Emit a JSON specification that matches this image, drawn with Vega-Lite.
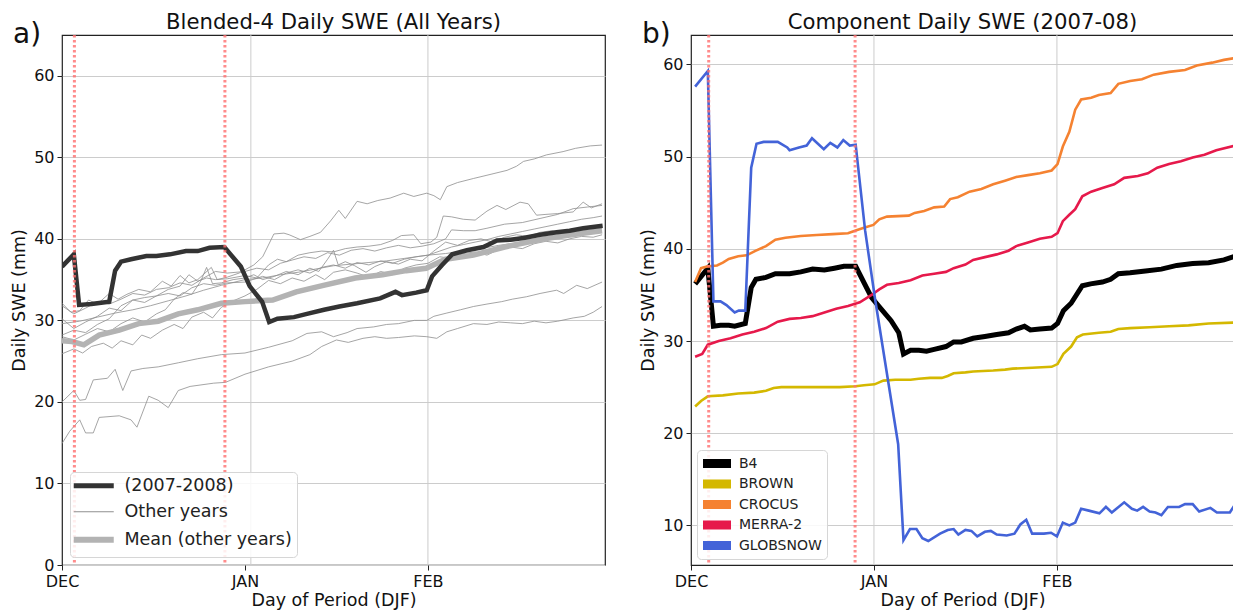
{
  "$schema": "https://vega.github.io/schema/vega-lite/v6.json",
  "background": "white",
  "padding": {"left": 10, "top": 11, "right": 0, "bottom": 0},
  "bounds": "flush",
  "spacing": 86,
  "resolve": {"scale": {"color": "independent"}, "legend": {"color": "independent"}},
  "config": {
    "font": "DejaVu Sans",
    "view": {"stroke": "#222222", "strokeWidth": 1.2},
    "axis": {
      "labelFont": "DejaVu Sans", "titleFont": "DejaVu Sans",
      "labelFontSize": 16, "titleFontSize": 17.5, "titleFontWeight": "normal",
      "labelColor": "#111111", "titleColor": "#111111",
      "domain": false, "tickColor": "#222222", "tickSize": 5, "labelPadding": 3,
      "gridColor": "#cccccc", "gridWidth": 1, "labelFlush": false, "labelOverlap": false
    },
    "axisY": {"titlePadding": 5},
    "axisX": {"titlePadding": 2},
    "title": {"font": "DejaVu Sans", "fontSize": 21.2, "fontWeight": "normal", "color": "#111111", "offset": -12, "frame": "group"},
    "legend": {"labelFont": "DejaVu Sans", "labelColor": "#222222", "direction": "vertical", "labelLimit": 400}
  },
  "datasets": {
    "left_grid": [{"d": 32}, {"d": 62}],
    "left_marks": [{"d": 2.1}, {"d": 27.6}],
    "right_grid": [{"d": 31}, {"d": 62}],
    "right_marks": [{"d": 3.0}, {"d": 27.8}],
    "left_lines": [
      {"k":"L1","s":"Other years","d":0,"v":32.1},{"k":"L1","s":"Other years","d":1.5,"v":31.0},{"k":"L1","s":"Other years","d":3,"v":31.2},{"k":"L1","s":"Other years","d":4.5,"v":32.5},{"k":"L1","s":"Other years","d":6,"v":32.0},{"k":"L1","s":"Other years","d":8,"v":33.3},{"k":"L1","s":"Other years","d":9.5,"v":32.6},{"k":"L1","s":"Other years","d":11,"v":33.2},{"k":"L1","s":"Other years","d":13,"v":33.8},{"k":"L1","s":"Other years","d":15,"v":33.5},{"k":"L1","s":"Other years","d":17,"v":34.8},{"k":"L1","s":"Other years","d":18.5,"v":34.2},{"k":"L1","s":"Other years","d":20,"v":35.5},{"k":"L1","s":"Other years","d":21.5,"v":34.6},{"k":"L1","s":"Other years","d":23,"v":35.0},{"k":"L1","s":"Other years","d":25.3,"v":36.5},{"k":"L1","s":"Other years","d":26.3,"v":35.0},{"k":"L1","s":"Other years","d":28,"v":35.3},{"k":"L1","s":"Other years","d":30,"v":35.8},{"k":"L1","s":"Other years","d":32.5,"v":36.8},{"k":"L1","s":"Other years","d":34,"v":37.8},{"k":"L1","s":"Other years","d":35.9,"v":40.6},{"k":"L1","s":"Other years","d":37.6,"v":40.7},{"k":"L1","s":"Other years","d":38.5,"v":40.5},{"k":"L1","s":"Other years","d":40.4,"v":39.9},{"k":"L1","s":"Other years","d":42,"v":40.3},{"k":"L1","s":"Other years","d":43.8,"v":40.8},{"k":"L1","s":"Other years","d":45.5,"v":42.2},{"k":"L1","s":"Other years","d":46.9,"v":43.5},{"k":"L1","s":"Other years","d":48,"v":42.5},{"k":"L1","s":"Other years","d":50,"v":44.6},{"k":"L1","s":"Other years","d":51.7,"v":44.3},{"k":"L1","s":"Other years","d":53.5,"v":44.7},{"k":"L1","s":"Other years","d":55.6,"v":45.0},{"k":"L1","s":"Other years","d":57.9,"v":45.6},{"k":"L1","s":"Other years","d":59.6,"v":45.2},{"k":"L1","s":"Other years","d":61.8,"v":45.6},{"k":"L1","s":"Other years","d":63,"v":45.3},{"k":"L1","s":"Other years","d":64.1,"v":44.8},{"k":"L1","s":"Other years","d":65.2,"v":46.4},{"k":"L1","s":"Other years","d":67,"v":46.9},{"k":"L1","s":"Other years","d":69.7,"v":47.4},{"k":"L1","s":"Other years","d":72,"v":47.8},{"k":"L1","s":"Other years","d":75.4,"v":48.4},{"k":"L1","s":"Other years","d":77,"v":48.9},{"k":"L1","s":"Other years","d":78.2,"v":49.5},{"k":"L1","s":"Other years","d":80,"v":49.8},{"k":"L1","s":"Other years","d":82.1,"v":50.3},{"k":"L1","s":"Other years","d":84.9,"v":50.7},{"k":"L1","s":"Other years","d":87,"v":51.1},{"k":"L1","s":"Other years","d":89.5,"v":51.4},{"k":"L1","s":"Other years","d":91.5,"v":51.5},
      {"k":"L2","s":"Other years","d":0,"v":30.2},{"k":"L2","s":"Other years","d":2,"v":29.0},{"k":"L2","s":"Other years","d":4,"v":29.8},{"k":"L2","s":"Other years","d":6,"v":30.5},{"k":"L2","s":"Other years","d":8,"v":31.5},{"k":"L2","s":"Other years","d":10,"v":31.2},{"k":"L2","s":"Other years","d":12,"v":32.5},{"k":"L2","s":"Other years","d":14,"v":32.8},{"k":"L2","s":"Other years","d":16,"v":33.0},{"k":"L2","s":"Other years","d":18,"v":33.8},{"k":"L2","s":"Other years","d":20,"v":34.2},{"k":"L2","s":"Other years","d":21.5,"v":35.6},{"k":"L2","s":"Other years","d":23,"v":34.8},{"k":"L2","s":"Other years","d":24.5,"v":35.2},{"k":"L2","s":"Other years","d":26,"v":35.0},{"k":"L2","s":"Other years","d":28,"v":35.1},{"k":"L2","s":"Other years","d":31,"v":35.5},{"k":"L2","s":"Other years","d":33,"v":35.2},{"k":"L2","s":"Other years","d":35,"v":36.8},{"k":"L2","s":"Other years","d":36.5,"v":37.5},{"k":"L2","s":"Other years","d":38,"v":37.2},{"k":"L2","s":"Other years","d":40,"v":38.0},{"k":"L2","s":"Other years","d":42,"v":38.3},{"k":"L2","s":"Other years","d":44,"v":38.5},{"k":"L2","s":"Other years","d":46,"v":38.4},{"k":"L2","s":"Other years","d":48,"v":38.8},{"k":"L2","s":"Other years","d":50,"v":39.0},{"k":"L2","s":"Other years","d":52,"v":39.1},{"k":"L2","s":"Other years","d":54,"v":39.3},{"k":"L2","s":"Other years","d":56,"v":39.8},{"k":"L2","s":"Other years","d":57.5,"v":40.4},{"k":"L2","s":"Other years","d":59.6,"v":40.5},{"k":"L2","s":"Other years","d":60.8,"v":39.4},{"k":"L2","s":"Other years","d":62.5,"v":39.6},{"k":"L2","s":"Other years","d":63.5,"v":40.2},{"k":"L2","s":"Other years","d":64.6,"v":42.8},{"k":"L2","s":"Other years","d":66,"v":42.7},{"k":"L2","s":"Other years","d":68,"v":42.4},{"k":"L2","s":"Other years","d":70,"v":42.3},{"k":"L2","s":"Other years","d":72,"v":43.4},{"k":"L2","s":"Other years","d":73.7,"v":44.1},{"k":"L2","s":"Other years","d":75.2,"v":43.6},{"k":"L2","s":"Other years","d":77.6,"v":44.5},{"k":"L2","s":"Other years","d":79,"v":44.3},{"k":"L2","s":"Other years","d":80.4,"v":42.9},{"k":"L2","s":"Other years","d":82,"v":43.0},{"k":"L2","s":"Other years","d":84,"v":43.1},{"k":"L2","s":"Other years","d":86.6,"v":43.3},{"k":"L2","s":"Other years","d":88.3,"v":44.5},{"k":"L2","s":"Other years","d":89.7,"v":43.8},{"k":"L2","s":"Other years","d":91.5,"v":44.3},
      {"k":"L3","s":"Other years","d":0,"v":29.6},{"k":"L3","s":"Other years","d":3,"v":29.9},{"k":"L3","s":"Other years","d":6,"v":30.4},{"k":"L3","s":"Other years","d":9,"v":30.9},{"k":"L3","s":"Other years","d":12,"v":31.3},{"k":"L3","s":"Other years","d":15,"v":31.8},{"k":"L3","s":"Other years","d":18,"v":32.4},{"k":"L3","s":"Other years","d":21,"v":33.0},{"k":"L3","s":"Other years","d":24,"v":33.7},{"k":"L3","s":"Other years","d":27,"v":34.3},{"k":"L3","s":"Other years","d":31,"v":35.0},{"k":"L3","s":"Other years","d":34,"v":35.2},{"k":"L3","s":"Other years","d":37,"v":35.6},{"k":"L3","s":"Other years","d":40,"v":35.9},{"k":"L3","s":"Other years","d":43,"v":36.3},{"k":"L3","s":"Other years","d":46,"v":36.7},{"k":"L3","s":"Other years","d":49,"v":36.9},{"k":"L3","s":"Other years","d":52,"v":37.1},{"k":"L3","s":"Other years","d":55,"v":37.3},{"k":"L3","s":"Other years","d":58,"v":37.6},{"k":"L3","s":"Other years","d":62,"v":38.0},{"k":"L3","s":"Other years","d":65,"v":38.2},{"k":"L3","s":"Other years","d":68,"v":38.5},{"k":"L3","s":"Other years","d":71,"v":38.8},{"k":"L3","s":"Other years","d":74,"v":39.2},{"k":"L3","s":"Other years","d":77,"v":39.5},{"k":"L3","s":"Other years","d":80,"v":39.9},{"k":"L3","s":"Other years","d":83,"v":40.2},{"k":"L3","s":"Other years","d":86,"v":40.5},{"k":"L3","s":"Other years","d":89,"v":40.8},{"k":"L3","s":"Other years","d":91.5,"v":41.0},
      {"k":"L4","s":"Other years","d":0,"v":28.2},{"k":"L4","s":"Other years","d":2,"v":28.8},{"k":"L4","s":"Other years","d":4,"v":28.5},{"k":"L4","s":"Other years","d":6,"v":29.5},{"k":"L4","s":"Other years","d":8,"v":30.2},{"k":"L4","s":"Other years","d":10,"v":31.8},{"k":"L4","s":"Other years","d":12,"v":32.5},{"k":"L4","s":"Other years","d":14,"v":32.2},{"k":"L4","s":"Other years","d":16,"v":33.0},{"k":"L4","s":"Other years","d":18,"v":33.3},{"k":"L4","s":"Other years","d":20,"v":33.0},{"k":"L4","s":"Other years","d":22,"v":34.0},{"k":"L4","s":"Other years","d":24,"v":34.5},{"k":"L4","s":"Other years","d":26,"v":34.3},{"k":"L4","s":"Other years","d":28,"v":34.6},{"k":"L4","s":"Other years","d":31,"v":34.7},{"k":"L4","s":"Other years","d":34,"v":35.4},{"k":"L4","s":"Other years","d":36,"v":35.0},{"k":"L4","s":"Other years","d":38,"v":35.8},{"k":"L4","s":"Other years","d":40,"v":36.2},{"k":"L4","s":"Other years","d":42,"v":35.8},{"k":"L4","s":"Other years","d":44,"v":36.5},{"k":"L4","s":"Other years","d":46,"v":36.8},{"k":"L4","s":"Other years","d":48,"v":36.4},{"k":"L4","s":"Other years","d":50,"v":37.1},{"k":"L4","s":"Other years","d":52,"v":36.8},{"k":"L4","s":"Other years","d":54,"v":37.3},{"k":"L4","s":"Other years","d":56,"v":37.0},{"k":"L4","s":"Other years","d":58,"v":37.5},{"k":"L4","s":"Other years","d":60,"v":37.8},{"k":"L4","s":"Other years","d":62,"v":38.0},{"k":"L4","s":"Other years","d":64,"v":38.5},{"k":"L4","s":"Other years","d":66,"v":39.0},{"k":"L4","s":"Other years","d":68,"v":39.3},{"k":"L4","s":"Other years","d":70,"v":39.6},{"k":"L4","s":"Other years","d":72,"v":39.9},{"k":"L4","s":"Other years","d":74,"v":40.3},{"k":"L4","s":"Other years","d":76,"v":40.6},{"k":"L4","s":"Other years","d":78,"v":40.9},{"k":"L4","s":"Other years","d":80,"v":41.2},{"k":"L4","s":"Other years","d":82,"v":41.5},{"k":"L4","s":"Other years","d":84,"v":41.8},{"k":"L4","s":"Other years","d":86,"v":42.1},{"k":"L4","s":"Other years","d":88,"v":42.4},{"k":"L4","s":"Other years","d":90,"v":42.6},{"k":"L4","s":"Other years","d":91.5,"v":42.8},
      {"k":"L5","s":"Other years","d":0,"v":31.8},{"k":"L5","s":"Other years","d":2,"v":30.8},{"k":"L5","s":"Other years","d":4,"v":31.5},{"k":"L5","s":"Other years","d":6,"v":32.3},{"k":"L5","s":"Other years","d":8,"v":32.0},{"k":"L5","s":"Other years","d":10,"v":32.6},{"k":"L5","s":"Other years","d":12,"v":33.3},{"k":"L5","s":"Other years","d":14,"v":33.1},{"k":"L5","s":"Other years","d":16,"v":33.8},{"k":"L5","s":"Other years","d":18,"v":34.0},{"k":"L5","s":"Other years","d":20,"v":34.6},{"k":"L5","s":"Other years","d":22,"v":34.3},{"k":"L5","s":"Other years","d":24,"v":35.2},{"k":"L5","s":"Other years","d":26,"v":36.0},{"k":"L5","s":"Other years","d":28,"v":35.8},{"k":"L5","s":"Other years","d":31,"v":36.0},{"k":"L5","s":"Other years","d":33,"v":36.4},{"k":"L5","s":"Other years","d":35,"v":36.2},{"k":"L5","s":"Other years","d":37,"v":37.0},{"k":"L5","s":"Other years","d":39,"v":37.4},{"k":"L5","s":"Other years","d":41,"v":37.8},{"k":"L5","s":"Other years","d":43,"v":37.6},{"k":"L5","s":"Other years","d":45,"v":38.3},{"k":"L5","s":"Other years","d":47,"v":38.0},{"k":"L5","s":"Other years","d":49,"v":38.6},{"k":"L5","s":"Other years","d":51,"v":38.8},{"k":"L5","s":"Other years","d":53,"v":38.5},{"k":"L5","s":"Other years","d":55,"v":38.9},{"k":"L5","s":"Other years","d":57,"v":39.2},{"k":"L5","s":"Other years","d":59,"v":38.9},{"k":"L5","s":"Other years","d":61,"v":39.1},{"k":"L5","s":"Other years","d":63,"v":39.4},{"k":"L5","s":"Other years","d":65,"v":40.0},{"k":"L5","s":"Other years","d":66,"v":41.1},{"k":"L5","s":"Other years","d":68,"v":41.0},{"k":"L5","s":"Other years","d":70,"v":41.0},{"k":"L5","s":"Other years","d":72,"v":41.3},{"k":"L5","s":"Other years","d":75,"v":41.8},{"k":"L5","s":"Other years","d":78,"v":42.0},{"k":"L5","s":"Other years","d":81,"v":42.5},{"k":"L5","s":"Other years","d":84,"v":43.0},{"k":"L5","s":"Other years","d":86.6,"v":43.7},{"k":"L5","s":"Other years","d":89,"v":43.9},{"k":"L5","s":"Other years","d":91.5,"v":44.1},
      {"k":"L6","s":"Other years","d":0,"v":25.9},{"k":"L6","s":"Other years","d":2,"v":26.5},{"k":"L6","s":"Other years","d":3.5,"v":26.0},{"k":"L6","s":"Other years","d":5,"v":26.8},{"k":"L6","s":"Other years","d":7,"v":27.2},{"k":"L6","s":"Other years","d":8.5,"v":26.6},{"k":"L6","s":"Other years","d":10,"v":27.5},{"k":"L6","s":"Other years","d":12,"v":27.0},{"k":"L6","s":"Other years","d":13.5,"v":28.2},{"k":"L6","s":"Other years","d":15,"v":27.8},{"k":"L6","s":"Other years","d":17,"v":28.8},{"k":"L6","s":"Other years","d":19,"v":29.5},{"k":"L6","s":"Other years","d":20.5,"v":29.0},{"k":"L6","s":"Other years","d":22,"v":30.4},{"k":"L6","s":"Other years","d":24,"v":31.0},{"k":"L6","s":"Other years","d":25.5,"v":30.3},{"k":"L6","s":"Other years","d":27,"v":31.6},{"k":"L6","s":"Other years","d":29,"v":32.4},{"k":"L6","s":"Other years","d":31,"v":33.0},{"k":"L6","s":"Other years","d":33,"v":33.8},{"k":"L6","s":"Other years","d":35,"v":34.9},{"k":"L6","s":"Other years","d":37,"v":34.5},{"k":"L6","s":"Other years","d":39,"v":35.2},{"k":"L6","s":"Other years","d":41,"v":34.8},{"k":"L6","s":"Other years","d":43,"v":35.6},{"k":"L6","s":"Other years","d":44.5,"v":35.0},{"k":"L6","s":"Other years","d":46,"v":35.9},{"k":"L6","s":"Other years","d":48,"v":36.2},{"k":"L6","s":"Other years","d":50,"v":35.8},{"k":"L6","s":"Other years","d":52,"v":35.3},{"k":"L6","s":"Other years","d":54,"v":36.0},{"k":"L6","s":"Other years","d":56,"v":35.6},{"k":"L6","s":"Other years","d":58,"v":36.4},{"k":"L6","s":"Other years","d":60,"v":36.8},{"k":"L6","s":"Other years","d":62,"v":37.0},{"k":"L6","s":"Other years","d":64,"v":37.8},{"k":"L6","s":"Other years","d":66,"v":37.6},{"k":"L6","s":"Other years","d":68,"v":38.2},{"k":"L6","s":"Other years","d":70,"v":38.4},{"k":"L6","s":"Other years","d":72,"v":38.0},{"k":"L6","s":"Other years","d":74,"v":38.7},{"k":"L6","s":"Other years","d":76,"v":39.0},{"k":"L6","s":"Other years","d":78,"v":38.8},{"k":"L6","s":"Other years","d":80,"v":39.4},{"k":"L6","s":"Other years","d":82,"v":39.7},{"k":"L6","s":"Other years","d":84,"v":39.5},{"k":"L6","s":"Other years","d":86,"v":40.0},{"k":"L6","s":"Other years","d":88,"v":40.3},{"k":"L6","s":"Other years","d":90,"v":40.2},{"k":"L6","s":"Other years","d":91.5,"v":40.5},
      {"k":"L7","s":"Other years","d":0,"v":28.0},{"k":"L7","s":"Other years","d":2,"v":27.6},{"k":"L7","s":"Other years","d":4,"v":28.3},{"k":"L7","s":"Other years","d":6,"v":29.0},{"k":"L7","s":"Other years","d":8,"v":28.6},{"k":"L7","s":"Other years","d":10,"v":29.6},{"k":"L7","s":"Other years","d":12,"v":30.3},{"k":"L7","s":"Other years","d":14,"v":29.8},{"k":"L7","s":"Other years","d":16,"v":30.8},{"k":"L7","s":"Other years","d":17.5,"v":31.3},{"k":"L7","s":"Other years","d":19,"v":32.6},{"k":"L7","s":"Other years","d":20.5,"v":33.4},{"k":"L7","s":"Other years","d":22,"v":33.2},{"k":"L7","s":"Other years","d":23.5,"v":34.8},{"k":"L7","s":"Other years","d":24.5,"v":36.5},{"k":"L7","s":"Other years","d":25.5,"v":34.5},{"k":"L7","s":"Other years","d":27,"v":34.6},{"k":"L7","s":"Other years","d":29,"v":35.0},{"k":"L7","s":"Other years","d":31,"v":35.2},{"k":"L7","s":"Other years","d":32.5,"v":35.6},{"k":"L7","s":"Other years","d":34,"v":35.0},{"k":"L7","s":"Other years","d":36,"v":35.4},{"k":"L7","s":"Other years","d":38,"v":36.0},{"k":"L7","s":"Other years","d":40,"v":35.6},{"k":"L7","s":"Other years","d":42,"v":36.4},{"k":"L7","s":"Other years","d":43.5,"v":36.0},{"k":"L7","s":"Other years","d":45,"v":37.5},{"k":"L7","s":"Other years","d":46,"v":38.6},{"k":"L7","s":"Other years","d":46.8,"v":36.8},{"k":"L7","s":"Other years","d":48,"v":37.2},{"k":"L7","s":"Other years","d":49.6,"v":36.7},{"k":"L7","s":"Other years","d":51.5,"v":35.9},{"k":"L7","s":"Other years","d":53,"v":36.6},{"k":"L7","s":"Other years","d":55,"v":37.2},{"k":"L7","s":"Other years","d":57,"v":36.9},{"k":"L7","s":"Other years","d":59,"v":37.5},{"k":"L7","s":"Other years","d":61,"v":37.3},{"k":"L7","s":"Other years","d":63,"v":38.5},{"k":"L7","s":"Other years","d":65,"v":39.6},{"k":"L7","s":"Other years","d":67,"v":39.2},{"k":"L7","s":"Other years","d":69,"v":39.8},{"k":"L7","s":"Other years","d":71,"v":40.0},{"k":"L7","s":"Other years","d":73,"v":39.6},{"k":"L7","s":"Other years","d":75,"v":40.2},{"k":"L7","s":"Other years","d":77,"v":40.5},{"k":"L7","s":"Other years","d":79,"v":40.3},{"k":"L7","s":"Other years","d":81,"v":40.8},{"k":"L7","s":"Other years","d":83,"v":41.0},{"k":"L7","s":"Other years","d":85,"v":40.7},{"k":"L7","s":"Other years","d":87,"v":41.2},{"k":"L7","s":"Other years","d":89,"v":41.0},{"k":"L7","s":"Other years","d":91.5,"v":41.3},
      {"k":"L8","s":"Other years","d":0,"v":20.0},{"k":"L8","s":"Other years","d":2,"v":21.4},{"k":"L8","s":"Other years","d":3,"v":20.2},{"k":"L8","s":"Other years","d":4,"v":20.3},{"k":"L8","s":"Other years","d":5.3,"v":22.7},{"k":"L8","s":"Other years","d":7.7,"v":22.9},{"k":"L8","s":"Other years","d":9,"v":24.0},{"k":"L8","s":"Other years","d":10.3,"v":21.4},{"k":"L8","s":"Other years","d":11.7,"v":23.8},{"k":"L8","s":"Other years","d":13.7,"v":24.1},{"k":"L8","s":"Other years","d":16.3,"v":24.3},{"k":"L8","s":"Other years","d":19.7,"v":24.8},{"k":"L8","s":"Other years","d":23,"v":25.3},{"k":"L8","s":"Other years","d":27,"v":25.8},{"k":"L8","s":"Other years","d":31,"v":26.0},{"k":"L8","s":"Other years","d":35,"v":26.7},{"k":"L8","s":"Other years","d":39,"v":27.5},{"k":"L8","s":"Other years","d":41.5,"v":28.4},{"k":"L8","s":"Other years","d":44,"v":28.6},{"k":"L8","s":"Other years","d":46,"v":28.0},{"k":"L8","s":"Other years","d":48.3,"v":28.5},{"k":"L8","s":"Other years","d":50,"v":29.0},{"k":"L8","s":"Other years","d":52.8,"v":29.2},{"k":"L8","s":"Other years","d":55,"v":29.5},{"k":"L8","s":"Other years","d":57,"v":29.6},{"k":"L8","s":"Other years","d":59.7,"v":30.0},{"k":"L8","s":"Other years","d":61.8,"v":30.0},{"k":"L8","s":"Other years","d":63,"v":30.5},{"k":"L8","s":"Other years","d":65.2,"v":30.9},{"k":"L8","s":"Other years","d":67.5,"v":31.3},{"k":"L8","s":"Other years","d":69.7,"v":31.7},{"k":"L8","s":"Other years","d":72,"v":32.0},{"k":"L8","s":"Other years","d":74.5,"v":32.3},{"k":"L8","s":"Other years","d":76.3,"v":32.6},{"k":"L8","s":"Other years","d":78.7,"v":32.9},{"k":"L8","s":"Other years","d":81,"v":33.3},{"k":"L8","s":"Other years","d":83.8,"v":33.7},{"k":"L8","s":"Other years","d":85,"v":33.3},{"k":"L8","s":"Other years","d":87.2,"v":34.3},{"k":"L8","s":"Other years","d":89,"v":33.9},{"k":"L8","s":"Other years","d":91.5,"v":34.7},
      {"k":"L9","s":"Other years","d":0,"v":14.9},{"k":"L9","s":"Other years","d":1.3,"v":16.4},{"k":"L9","s":"Other years","d":3,"v":17.8},{"k":"L9","s":"Other years","d":4,"v":16.2},{"k":"L9","s":"Other years","d":5.3,"v":16.2},{"k":"L9","s":"Other years","d":6.3,"v":18.1},{"k":"L9","s":"Other years","d":9.7,"v":18.3},{"k":"L9","s":"Other years","d":11.7,"v":17.8},{"k":"L9","s":"Other years","d":12.7,"v":16.9},{"k":"L9","s":"Other years","d":14.7,"v":20.7},{"k":"L9","s":"Other years","d":16.3,"v":20.2},{"k":"L9","s":"Other years","d":18,"v":19.3},{"k":"L9","s":"Other years","d":19.7,"v":21.4},{"k":"L9","s":"Other years","d":21.7,"v":21.9},{"k":"L9","s":"Other years","d":25.7,"v":22.3},{"k":"L9","s":"Other years","d":27.7,"v":22.4},{"k":"L9","s":"Other years","d":31,"v":23.4},{"k":"L9","s":"Other years","d":35,"v":24.3},{"k":"L9","s":"Other years","d":39,"v":25.0},{"k":"L9","s":"Other years","d":42,"v":25.8},{"k":"L9","s":"Other years","d":44,"v":26.8},{"k":"L9","s":"Other years","d":46.5,"v":27.6},{"k":"L9","s":"Other years","d":48.5,"v":27.3},{"k":"L9","s":"Other years","d":51,"v":27.8},{"k":"L9","s":"Other years","d":53,"v":28.0},{"k":"L9","s":"Other years","d":55,"v":27.8},{"k":"L9","s":"Other years","d":57,"v":27.9},{"k":"L9","s":"Other years","d":59.7,"v":28.1},{"k":"L9","s":"Other years","d":61.8,"v":28.0},{"k":"L9","s":"Other years","d":63.5,"v":27.8},{"k":"L9","s":"Other years","d":65.2,"v":28.6},{"k":"L9","s":"Other years","d":67,"v":29.0},{"k":"L9","s":"Other years","d":69.7,"v":29.6},{"k":"L9","s":"Other years","d":72,"v":29.5},{"k":"L9","s":"Other years","d":74,"v":29.8},{"k":"L9","s":"Other years","d":76,"v":29.7},{"k":"L9","s":"Other years","d":78,"v":29.6},{"k":"L9","s":"Other years","d":80,"v":29.9},{"k":"L9","s":"Other years","d":82,"v":29.7},{"k":"L9","s":"Other years","d":84,"v":29.9},{"k":"L9","s":"Other years","d":86.6,"v":30.3},{"k":"L9","s":"Other years","d":88.5,"v":30.5},{"k":"L9","s":"Other years","d":90,"v":31.0},{"k":"L9","s":"Other years","d":91.5,"v":31.7},
      {"k":"M","s":"Mean (other years)","d":0,"v":27.5},{"k":"M","s":"Mean (other years)","d":1.7,"v":27.4},{"k":"M","s":"Mean (other years)","d":3.7,"v":27.0},{"k":"M","s":"Mean (other years)","d":6.3,"v":28.2},{"k":"M","s":"Mean (other years)","d":9.7,"v":28.8},{"k":"M","s":"Mean (other years)","d":13,"v":29.6},{"k":"M","s":"Mean (other years)","d":16.3,"v":29.9},{"k":"M","s":"Mean (other years)","d":19.7,"v":30.8},{"k":"M","s":"Mean (other years)","d":23,"v":31.3},{"k":"M","s":"Mean (other years)","d":27,"v":32.1},{"k":"M","s":"Mean (other years)","d":31,"v":32.3},{"k":"M","s":"Mean (other years)","d":35.7,"v":32.5},{"k":"M","s":"Mean (other years)","d":39.7,"v":33.5},{"k":"M","s":"Mean (other years)","d":44.3,"v":34.3},{"k":"M","s":"Mean (other years)","d":49.7,"v":35.2},{"k":"M","s":"Mean (other years)","d":54.3,"v":35.6},{"k":"M","s":"Mean (other years)","d":58.3,"v":36.1},{"k":"M","s":"Mean (other years)","d":61.7,"v":36.4},{"k":"M","s":"Mean (other years)","d":65,"v":37.5},{"k":"M","s":"Mean (other years)","d":69.7,"v":38.0},{"k":"M","s":"Mean (other years)","d":75,"v":39.0},{"k":"M","s":"Mean (other years)","d":81.7,"v":40.0},{"k":"M","s":"Mean (other years)","d":86.3,"v":40.5},{"k":"M","s":"Mean (other years)","d":91.5,"v":41.0},
      {"k":"B","s":"(2007-2008)","d":0,"v":36.6},{"k":"B","s":"(2007-2008)","d":2,"v":38.1},{"k":"B","s":"(2007-2008)","d":2.9,"v":31.9},{"k":"B","s":"(2007-2008)","d":5,"v":32.0},{"k":"B","s":"(2007-2008)","d":8,"v":32.3},{"k":"B","s":"(2007-2008)","d":9,"v":36.1},{"k":"B","s":"(2007-2008)","d":10,"v":37.2},{"k":"B","s":"(2007-2008)","d":11.7,"v":37.5},{"k":"B","s":"(2007-2008)","d":14.3,"v":37.9},{"k":"B","s":"(2007-2008)","d":16,"v":37.9},{"k":"B","s":"(2007-2008)","d":18.3,"v":38.1},{"k":"B","s":"(2007-2008)","d":21,"v":38.5},{"k":"B","s":"(2007-2008)","d":23,"v":38.5},{"k":"B","s":"(2007-2008)","d":25,"v":38.9},{"k":"B","s":"(2007-2008)","d":27.5,"v":39.0},{"k":"B","s":"(2007-2008)","d":30.3,"v":36.6},{"k":"B","s":"(2007-2008)","d":31.8,"v":34.2},{"k":"B","s":"(2007-2008)","d":33.9,"v":32.3},{"k":"B","s":"(2007-2008)","d":35.1,"v":29.8},{"k":"B","s":"(2007-2008)","d":36.5,"v":30.2},{"k":"B","s":"(2007-2008)","d":39.3,"v":30.4},{"k":"B","s":"(2007-2008)","d":41.5,"v":30.8},{"k":"B","s":"(2007-2008)","d":44.4,"v":31.3},{"k":"B","s":"(2007-2008)","d":47,"v":31.7},{"k":"B","s":"(2007-2008)","d":50,"v":32.1},{"k":"B","s":"(2007-2008)","d":53.9,"v":32.7},{"k":"B","s":"(2007-2008)","d":56.5,"v":33.5},{"k":"B","s":"(2007-2008)","d":57.6,"v":33.1},{"k":"B","s":"(2007-2008)","d":60,"v":33.4},{"k":"B","s":"(2007-2008)","d":61.8,"v":33.7},{"k":"B","s":"(2007-2008)","d":62.7,"v":35.4},{"k":"B","s":"(2007-2008)","d":64.4,"v":36.8},{"k":"B","s":"(2007-2008)","d":66.1,"v":38.1},{"k":"B","s":"(2007-2008)","d":68.6,"v":38.6},{"k":"B","s":"(2007-2008)","d":71.4,"v":39.0},{"k":"B","s":"(2007-2008)","d":73.7,"v":39.8},{"k":"B","s":"(2007-2008)","d":76,"v":39.9},{"k":"B","s":"(2007-2008)","d":78.2,"v":40.1},{"k":"B","s":"(2007-2008)","d":81,"v":40.5},{"k":"B","s":"(2007-2008)","d":83.8,"v":40.8},{"k":"B","s":"(2007-2008)","d":86,"v":41.0},{"k":"B","s":"(2007-2008)","d":88.3,"v":41.3},{"k":"B","s":"(2007-2008)","d":91.6,"v":41.6}
    ],
    "right_lines": [
      {"p":"B4","d":0.7,"v":36.2},{"p":"B4","d":2.85,"v":37.9},{"p":"B4","d":3.8,"v":31.6},{"p":"B4","d":5,"v":31.7},{"p":"B4","d":6.4,"v":31.7},{"p":"B4","d":7.4,"v":31.6},{"p":"B4","d":9.2,"v":31.9},{"p":"B4","d":10.2,"v":35.8},{"p":"B4","d":11,"v":36.7},{"p":"B4","d":12.7,"v":36.9},{"p":"B4","d":14.3,"v":37.3},{"p":"B4","d":16.7,"v":37.3},{"p":"B4","d":18.6,"v":37.5},{"p":"B4","d":20.6,"v":37.8},{"p":"B4","d":22.6,"v":37.7},{"p":"B4","d":24.3,"v":37.9},{"p":"B4","d":25.9,"v":38.1},{"p":"B4","d":27.9,"v":38.1},{"p":"B4","d":30.6,"v":34.7},{"p":"B4","d":32.2,"v":33.5},{"p":"B4","d":33.9,"v":32.2},{"p":"B4","d":35.2,"v":30.9},{"p":"B4","d":36,"v":28.6},{"p":"B4","d":37.2,"v":29.0},{"p":"B4","d":38.6,"v":29.0},{"p":"B4","d":39.9,"v":28.9},{"p":"B4","d":41.2,"v":29.1},{"p":"B4","d":43.2,"v":29.4},{"p":"B4","d":44.5,"v":29.9},{"p":"B4","d":45.8,"v":29.9},{"p":"B4","d":47.8,"v":30.3},{"p":"B4","d":49.8,"v":30.5},{"p":"B4","d":51.8,"v":30.7},{"p":"B4","d":53.8,"v":30.9},{"p":"B4","d":55.1,"v":31.3},{"p":"B4","d":56.5,"v":31.6},{"p":"B4","d":57.5,"v":31.2},{"p":"B4","d":59.1,"v":31.3},{"p":"B4","d":61.1,"v":31.4},{"p":"B4","d":62.1,"v":31.9},{"p":"B4","d":63.1,"v":33.3},{"p":"B4","d":64.4,"v":34.1},{"p":"B4","d":66.3,"v":36.0},{"p":"B4","d":67.7,"v":36.2},{"p":"B4","d":69.7,"v":36.4},{"p":"B4","d":71.1,"v":36.7},{"p":"B4","d":72.4,"v":37.3},{"p":"B4","d":74.4,"v":37.4},{"p":"B4","d":77,"v":37.6},{"p":"B4","d":79.7,"v":37.8},{"p":"B4","d":82.3,"v":38.2},{"p":"B4","d":85,"v":38.4},{"p":"B4","d":87.7,"v":38.5},{"p":"B4","d":90.3,"v":38.8},{"p":"B4","d":92.2,"v":39.2},
      {"p":"BROWN","d":0.7,"v":22.9},{"p":"BROWN","d":1.7,"v":23.5},{"p":"BROWN","d":2.85,"v":24.0},{"p":"BROWN","d":5.4,"v":24.1},{"p":"BROWN","d":8,"v":24.3},{"p":"BROWN","d":10.7,"v":24.4},{"p":"BROWN","d":12.7,"v":24.6},{"p":"BROWN","d":14,"v":24.9},{"p":"BROWN","d":15.3,"v":25.0},{"p":"BROWN","d":18.6,"v":25.0},{"p":"BROWN","d":21.9,"v":25.0},{"p":"BROWN","d":25.2,"v":25.0},{"p":"BROWN","d":27.9,"v":25.1},{"p":"BROWN","d":29.3,"v":25.2},{"p":"BROWN","d":31.1,"v":25.3},{"p":"BROWN","d":32.6,"v":25.7},{"p":"BROWN","d":34.6,"v":25.8},{"p":"BROWN","d":37.2,"v":25.8},{"p":"BROWN","d":38.6,"v":25.9},{"p":"BROWN","d":40.5,"v":26.0},{"p":"BROWN","d":42.5,"v":26.0},{"p":"BROWN","d":43.5,"v":26.2},{"p":"BROWN","d":44.5,"v":26.5},{"p":"BROWN","d":46.5,"v":26.6},{"p":"BROWN","d":47.8,"v":26.7},{"p":"BROWN","d":51.2,"v":26.8},{"p":"BROWN","d":53.2,"v":26.9},{"p":"BROWN","d":54.5,"v":27.0},{"p":"BROWN","d":57.8,"v":27.1},{"p":"BROWN","d":61.1,"v":27.2},{"p":"BROWN","d":62.1,"v":27.5},{"p":"BROWN","d":63.1,"v":28.6},{"p":"BROWN","d":64.4,"v":29.4},{"p":"BROWN","d":65.4,"v":30.4},{"p":"BROWN","d":66.4,"v":30.7},{"p":"BROWN","d":69.1,"v":30.9},{"p":"BROWN","d":71.1,"v":31.0},{"p":"BROWN","d":72.4,"v":31.3},{"p":"BROWN","d":74.4,"v":31.4},{"p":"BROWN","d":77.7,"v":31.5},{"p":"BROWN","d":81,"v":31.6},{"p":"BROWN","d":84.3,"v":31.7},{"p":"BROWN","d":87.7,"v":31.9},{"p":"BROWN","d":92.2,"v":32.0},
      {"p":"CROCUS","d":0.7,"v":36.4},{"p":"CROCUS","d":1.7,"v":37.9},{"p":"CROCUS","d":2.85,"v":38.1},{"p":"CROCUS","d":4.4,"v":38.2},{"p":"CROCUS","d":5.4,"v":38.5},{"p":"CROCUS","d":6.4,"v":38.9},{"p":"CROCUS","d":8,"v":39.2},{"p":"CROCUS","d":9.4,"v":39.3},{"p":"CROCUS","d":11,"v":39.8},{"p":"CROCUS","d":12.7,"v":40.3},{"p":"CROCUS","d":14.3,"v":41.0},{"p":"CROCUS","d":16,"v":41.2},{"p":"CROCUS","d":18.6,"v":41.4},{"p":"CROCUS","d":21.3,"v":41.5},{"p":"CROCUS","d":24,"v":41.6},{"p":"CROCUS","d":26.6,"v":41.7},{"p":"CROCUS","d":27.9,"v":42.0},{"p":"CROCUS","d":29.3,"v":42.3},{"p":"CROCUS","d":30.9,"v":42.6},{"p":"CROCUS","d":31.9,"v":43.2},{"p":"CROCUS","d":33.2,"v":43.5},{"p":"CROCUS","d":36.9,"v":43.6},{"p":"CROCUS","d":37.9,"v":43.9},{"p":"CROCUS","d":39.5,"v":44.1},{"p":"CROCUS","d":41.2,"v":44.5},{"p":"CROCUS","d":42.9,"v":44.6},{"p":"CROCUS","d":43.9,"v":45.4},{"p":"CROCUS","d":45.2,"v":45.6},{"p":"CROCUS","d":47.2,"v":46.2},{"p":"CROCUS","d":49.2,"v":46.5},{"p":"CROCUS","d":51.2,"v":47.0},{"p":"CROCUS","d":53.2,"v":47.4},{"p":"CROCUS","d":55.1,"v":47.8},{"p":"CROCUS","d":57.1,"v":48.0},{"p":"CROCUS","d":59.1,"v":48.2},{"p":"CROCUS","d":61.1,"v":48.5},{"p":"CROCUS","d":62.1,"v":49.2},{"p":"CROCUS","d":63,"v":51.1},{"p":"CROCUS","d":64.1,"v":52.7},{"p":"CROCUS","d":65.1,"v":55.1},{"p":"CROCUS","d":66.1,"v":56.2},{"p":"CROCUS","d":67.8,"v":56.4},{"p":"CROCUS","d":69.1,"v":56.7},{"p":"CROCUS","d":71.1,"v":56.9},{"p":"CROCUS","d":72.4,"v":57.9},{"p":"CROCUS","d":74.4,"v":58.2},{"p":"CROCUS","d":76.4,"v":58.4},{"p":"CROCUS","d":78.4,"v":58.9},{"p":"CROCUS","d":81,"v":59.2},{"p":"CROCUS","d":83.7,"v":59.4},{"p":"CROCUS","d":85.7,"v":59.9},{"p":"CROCUS","d":88.3,"v":60.2},{"p":"CROCUS","d":90.3,"v":60.5},{"p":"CROCUS","d":92.2,"v":60.7},
      {"p":"MERRA-2","d":0.7,"v":28.3},{"p":"MERRA-2","d":1.9,"v":28.6},{"p":"MERRA-2","d":2.85,"v":29.6},{"p":"MERRA-2","d":4.7,"v":30.0},{"p":"MERRA-2","d":6.7,"v":30.3},{"p":"MERRA-2","d":8.7,"v":30.7},{"p":"MERRA-2","d":10.7,"v":31.0},{"p":"MERRA-2","d":12.7,"v":31.4},{"p":"MERRA-2","d":14.7,"v":32.1},{"p":"MERRA-2","d":16.7,"v":32.4},{"p":"MERRA-2","d":18.6,"v":32.5},{"p":"MERRA-2","d":20.6,"v":32.7},{"p":"MERRA-2","d":22.6,"v":33.1},{"p":"MERRA-2","d":24.6,"v":33.5},{"p":"MERRA-2","d":26.6,"v":33.8},{"p":"MERRA-2","d":28.6,"v":34.2},{"p":"MERRA-2","d":30.6,"v":35.0},{"p":"MERRA-2","d":31.9,"v":35.6},{"p":"MERRA-2","d":33.2,"v":36.1},{"p":"MERRA-2","d":35.2,"v":36.3},{"p":"MERRA-2","d":37.2,"v":36.6},{"p":"MERRA-2","d":39.2,"v":37.1},{"p":"MERRA-2","d":41.2,"v":37.3},{"p":"MERRA-2","d":43.2,"v":37.5},{"p":"MERRA-2","d":44.5,"v":37.9},{"p":"MERRA-2","d":46.5,"v":38.3},{"p":"MERRA-2","d":47.8,"v":38.8},{"p":"MERRA-2","d":49.8,"v":39.1},{"p":"MERRA-2","d":51.8,"v":39.4},{"p":"MERRA-2","d":53.8,"v":39.8},{"p":"MERRA-2","d":55.1,"v":40.3},{"p":"MERRA-2","d":57.1,"v":40.7},{"p":"MERRA-2","d":59.1,"v":41.1},{"p":"MERRA-2","d":61.1,"v":41.3},{"p":"MERRA-2","d":62.1,"v":41.7},{"p":"MERRA-2","d":63,"v":43.0},{"p":"MERRA-2","d":64.1,"v":43.7},{"p":"MERRA-2","d":65.1,"v":44.3},{"p":"MERRA-2","d":66.3,"v":45.7},{"p":"MERRA-2","d":67.8,"v":46.2},{"p":"MERRA-2","d":69.7,"v":46.6},{"p":"MERRA-2","d":71.7,"v":47.0},{"p":"MERRA-2","d":73.4,"v":47.7},{"p":"MERRA-2","d":75.7,"v":47.9},{"p":"MERRA-2","d":77.4,"v":48.2},{"p":"MERRA-2","d":79,"v":48.8},{"p":"MERRA-2","d":81,"v":49.2},{"p":"MERRA-2","d":83,"v":49.5},{"p":"MERRA-2","d":85,"v":49.9},{"p":"MERRA-2","d":87,"v":50.2},{"p":"MERRA-2","d":89,"v":50.7},{"p":"MERRA-2","d":92.2,"v":51.2},
      {"p":"GLOBSNOW","d":0.7,"v":57.6},{"p":"GLOBSNOW","d":2.85,"v":59.3},{"p":"GLOBSNOW","d":3.8,"v":34.3},{"p":"GLOBSNOW","d":5,"v":34.3},{"p":"GLOBSNOW","d":6,"v":33.9},{"p":"GLOBSNOW","d":7.4,"v":33.1},{"p":"GLOBSNOW","d":8.1,"v":33.3},{"p":"GLOBSNOW","d":9.2,"v":33.3},{"p":"GLOBSNOW","d":10.2,"v":48.8},{"p":"GLOBSNOW","d":11.1,"v":51.4},{"p":"GLOBSNOW","d":12.3,"v":51.6},{"p":"GLOBSNOW","d":14.7,"v":51.6},{"p":"GLOBSNOW","d":16.3,"v":51.0},{"p":"GLOBSNOW","d":16.7,"v":50.7},{"p":"GLOBSNOW","d":18.3,"v":51.0},{"p":"GLOBSNOW","d":19.6,"v":51.2},{"p":"GLOBSNOW","d":20.5,"v":52.0},{"p":"GLOBSNOW","d":22.5,"v":50.8},{"p":"GLOBSNOW","d":23.6,"v":51.5},{"p":"GLOBSNOW","d":24.8,"v":51.0},{"p":"GLOBSNOW","d":25.8,"v":51.8},{"p":"GLOBSNOW","d":26.9,"v":51.2},{"p":"GLOBSNOW","d":27.9,"v":51.3},{"p":"GLOBSNOW","d":29.5,"v":42.0},{"p":"GLOBSNOW","d":31.2,"v":34.5},{"p":"GLOBSNOW","d":35.1,"v":18.8},{"p":"GLOBSNOW","d":36,"v":8.4},{"p":"GLOBSNOW","d":37.1,"v":9.6},{"p":"GLOBSNOW","d":38.2,"v":9.6},{"p":"GLOBSNOW","d":39.2,"v":8.6},{"p":"GLOBSNOW","d":40.2,"v":8.3},{"p":"GLOBSNOW","d":42.2,"v":9.1},{"p":"GLOBSNOW","d":43.5,"v":9.5},{"p":"GLOBSNOW","d":44.5,"v":9.6},{"p":"GLOBSNOW","d":45.3,"v":9.0},{"p":"GLOBSNOW","d":46.5,"v":9.5},{"p":"GLOBSNOW","d":47.5,"v":9.4},{"p":"GLOBSNOW","d":48.5,"v":8.8},{"p":"GLOBSNOW","d":49.8,"v":9.3},{"p":"GLOBSNOW","d":50.8,"v":9.4},{"p":"GLOBSNOW","d":51.8,"v":9.0},{"p":"GLOBSNOW","d":53.5,"v":8.9},{"p":"GLOBSNOW","d":54.8,"v":9.1},{"p":"GLOBSNOW","d":55.8,"v":10.1},{"p":"GLOBSNOW","d":56.8,"v":10.6},{"p":"GLOBSNOW","d":57.8,"v":9.1},{"p":"GLOBSNOW","d":59.8,"v":9.1},{"p":"GLOBSNOW","d":61,"v":9.2},{"p":"GLOBSNOW","d":62,"v":8.8},{"p":"GLOBSNOW","d":63,"v":10.3},{"p":"GLOBSNOW","d":64.1,"v":10.0},{"p":"GLOBSNOW","d":65.1,"v":10.3},{"p":"GLOBSNOW","d":66.1,"v":11.8},{"p":"GLOBSNOW","d":67.4,"v":11.6},{"p":"GLOBSNOW","d":69.2,"v":11.3},{"p":"GLOBSNOW","d":70.3,"v":12.0},{"p":"GLOBSNOW","d":71.3,"v":11.4},{"p":"GLOBSNOW","d":73.4,"v":12.5},{"p":"GLOBSNOW","d":74.7,"v":11.8},{"p":"GLOBSNOW","d":75.6,"v":11.6},{"p":"GLOBSNOW","d":76.6,"v":12.0},{"p":"GLOBSNOW","d":77.7,"v":11.5},{"p":"GLOBSNOW","d":78.7,"v":11.4},{"p":"GLOBSNOW","d":79.7,"v":11.1},{"p":"GLOBSNOW","d":80.8,"v":12.0},{"p":"GLOBSNOW","d":82.7,"v":12.0},{"p":"GLOBSNOW","d":83.7,"v":12.3},{"p":"GLOBSNOW","d":85,"v":12.3},{"p":"GLOBSNOW","d":86.1,"v":11.5},{"p":"GLOBSNOW","d":88,"v":11.9},{"p":"GLOBSNOW","d":89.1,"v":11.4},{"p":"GLOBSNOW","d":91.3,"v":11.4},{"p":"GLOBSNOW","d":92.2,"v":12.3}
    ]
  },
  "hconcat": [
    {
      "width": 543,
      "height": 530,
      "title": {"text": "Blended-4 Daily SWE (All Years)"},
      "layer": [
        {
          "data": {"name": "left_grid"},
          "mark": {"type": "rule", "color": "#cccccc", "strokeWidth": 1},
          "encoding": {
            "x": {
              "field": "d", "type": "quantitative",
              "scale": {"domain": [0, 92], "nice": false, "zero": false},
              "axis": {"values": [0, 31, 62], "labelExpr": "datum.value == 0 ? 'DEC' : datum.value == 31 ? 'JAN' : 'FEB'", "grid": false, "title": "Day of Period (DJF)"}
            }
          }
        },
        {
          "data": {"name": "left_lines"},
          "transform": [{"filter": "datum.s === 'Other years'"}],
          "mark": {"type": "line", "clip": true, "opacity": 0.8},
          "encoding": {
            "x": {"field": "d", "type": "quantitative"},
            "y": {
              "field": "v", "type": "quantitative",
              "scale": {"domain": [0, 65], "nice": false, "zero": false},
              "axis": {"values": [0, 10, 20, 30, 40, 50, 60], "grid": true, "title": "Daily SWE (mm)"}
            },
            "color": {
              "field": "s", "type": "nominal",
              "scale": {"domain": ["(2007-2008)", "Other years", "Mean (other years)"], "range": ["#333333", "#8f8f8f", "#b3b3b3"]},
              "legend": {
                "title": null, "orient": "bottom-left", "offset": 8, "padding": 5,
                "symbolType": "M-5,0H5", "symbolSize": 64, "symbolStrokeWidth": 1, "symbolOffset": 10, "labelFontSize": 17.5, "labelOffset": 22,
                "rowPadding": 6, "fillColor": "rgba(255,255,255,0.85)", "strokeColor": "#d6d6d6", "cornerRadius": 4,
                "encode": {"symbols": {"update": {"strokeWidth": {"signal": "datum.value === 'Other years' ? 1 : datum.value === 'Mean (other years)' ? 6 : 5"}, "opacity": {"value": 1}}}}
              }
            },
            "strokeWidth": {"condition": {"test": "datum.s === 'Other years'", "value": 1}, "value": 1},
            "detail": {"field": "k", "type": "nominal"}
          }
        },
        {
          "data": {"name": "left_lines"},
          "transform": [{"filter": "datum.s === 'Mean (other years)'"}],
          "mark": {"type": "line", "clip": true},
          "encoding": {
            "x": {"field": "d", "type": "quantitative"},
            "y": {"field": "v", "type": "quantitative"},
            "color": {
              "field": "s", "type": "nominal",
              "legend": {
                "title": null, "orient": "bottom-left", "offset": 8, "padding": 5,
                "symbolType": "M-5,0H5", "symbolSize": 64, "symbolStrokeWidth": 1, "symbolOffset": 10, "labelFontSize": 17.5, "labelOffset": 22,
                "rowPadding": 6, "fillColor": "rgba(255,255,255,0.85)", "strokeColor": "#d6d6d6", "cornerRadius": 4,
                "encode": {"symbols": {"update": {"strokeWidth": {"signal": "datum.value === 'Other years' ? 1 : datum.value === 'Mean (other years)' ? 6 : 5"}, "opacity": {"value": 1}}}}
              }
            },
            "strokeWidth": {"condition": {"test": "datum.s === 'Mean (other years)'", "value": 5.5}, "value": 5.5}
          }
        },
        {
          "data": {"name": "left_lines"},
          "transform": [{"filter": "datum.s === '(2007-2008)'"}],
          "mark": {"type": "line", "clip": true},
          "encoding": {
            "x": {"field": "d", "type": "quantitative"},
            "y": {"field": "v", "type": "quantitative"},
            "color": {
              "field": "s", "type": "nominal",
              "legend": {
                "title": null, "orient": "bottom-left", "offset": 8, "padding": 5,
                "symbolType": "M-5,0H5", "symbolSize": 64, "symbolStrokeWidth": 1, "symbolOffset": 10, "labelFontSize": 17.5, "labelOffset": 22,
                "rowPadding": 6, "fillColor": "rgba(255,255,255,0.85)", "strokeColor": "#d6d6d6", "cornerRadius": 4,
                "encode": {"symbols": {"update": {"strokeWidth": {"signal": "datum.value === 'Other years' ? 1 : datum.value === 'Mean (other years)' ? 6 : 5"}, "opacity": {"value": 1}}}}
              }
            },
            "strokeWidth": {"condition": {"test": "datum.s === '(2007-2008)'", "value": 4.5}, "value": 4.5}
          }
        },
        {
          "data": {"name": "left_marks"},
          "mark": {"type": "rule", "color": "#ff6f6f", "strokeWidth": 3, "strokeDash": [2.6, 2.4], "opacity": 0.8},
          "encoding": {"x": {"field": "d", "type": "quantitative"}}
        },
        {
          "data": {"values": [{}]},
          "mark": {"type": "text", "text": "a)", "fontSize": 28, "align": "left", "baseline": "alphabetic", "dx": -49, "dy": 8, "color": "#111111"},
          "encoding": {"x": {"datum": 0, "type": "quantitative"}, "y": {"datum": 65, "type": "quantitative"}}
        }
      ]
    },
    {
      "width": 543,
      "height": 530,
      "title": {"text": "Component Daily SWE (2007-08)"},
      "layer": [
        {
          "data": {"name": "right_grid"},
          "mark": {"type": "rule", "color": "#cccccc", "strokeWidth": 1},
          "encoding": {
            "x": {
              "field": "d", "type": "quantitative",
              "scale": {"domain": [0, 92], "nice": false, "zero": false},
              "axis": {"values": [0, 31, 62], "labelExpr": "datum.value == 0 ? 'DEC' : datum.value == 31 ? 'JAN' : 'FEB'", "grid": false, "title": "Day of Period (DJF)"}
            }
          }
        },
        {
          "data": {"name": "right_lines"},
          "mark": {"type": "line", "clip": true},
          "encoding": {
            "x": {"field": "d", "type": "quantitative"},
            "y": {
              "field": "v", "type": "quantitative",
              "scale": {"domain": [5.7, 63.2], "nice": false, "zero": false},
              "axis": {"values": [10, 20, 30, 40, 50, 60], "grid": true, "title": "Daily SWE (mm)"}
            },
            "color": {
              "field": "p", "type": "nominal",
              "scale": {"domain": ["B4", "BROWN", "CROCUS", "MERRA-2", "GLOBSNOW"], "range": ["#000000", "#d4b800", "#f58231", "#e6194b", "#4363d8"]},
              "legend": {
                "title": null, "orient": "bottom-left", "offset": 6, "padding": 5,
                "symbolType": "M-5.6,0H5.6", "symbolSize": 25, "symbolStrokeWidth": 9, "symbolOffset": 8, "labelFontSize": 14, "labelOffset": 15,
                "rowPadding": 3.5, "clipHeight": 17, "fillColor": "rgba(255,255,255,0.85)", "strokeColor": "#d6d6d6", "cornerRadius": 4,
                "encode": {"symbols": {"update": {"strokeWidth": {"signal": "9"}}}}
              }
            },
            "strokeWidth": {"condition": {"test": "datum.p === 'B4'", "value": 5}, "value": 2.6}
          }
        },
        {
          "data": {"name": "right_marks"},
          "mark": {"type": "rule", "color": "#ff6f6f", "strokeWidth": 3, "strokeDash": [2.6, 2.4], "opacity": 0.8},
          "encoding": {"x": {"field": "d", "type": "quantitative"}}
        },
        {
          "data": {"values": [{}]},
          "mark": {"type": "text", "text": "b)", "fontSize": 28, "align": "left", "baseline": "alphabetic", "dx": -49, "dy": 8, "color": "#111111"},
          "encoding": {"x": {"datum": 0, "type": "quantitative"}, "y": {"datum": 63.2, "type": "quantitative"}}
        }
      ]
    }
  ]
}
